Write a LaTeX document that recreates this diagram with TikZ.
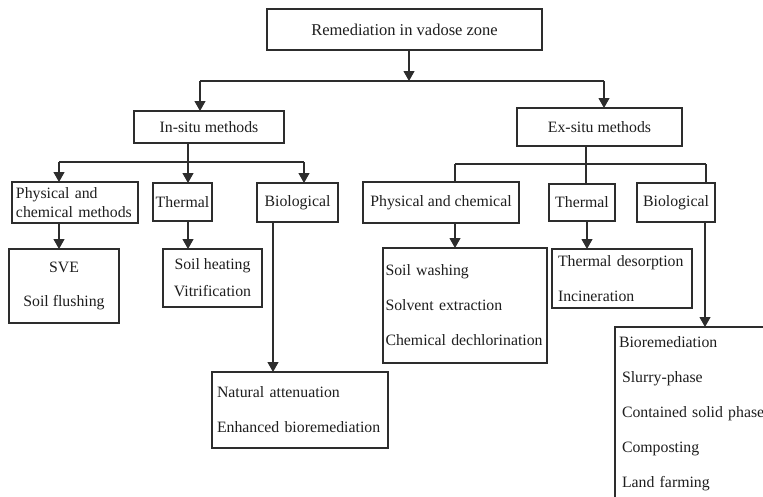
\documentclass[tikz,border=0pt]{standalone}
\usepackage{fontspec}
\setmainfont{Liberation Serif}
\usetikzlibrary{arrows.meta}
\definecolor{lc}{RGB}{45,45,45}
\definecolor{tc}{RGB}{30,30,30}
\newcommand{\fs}{\fontsize{15.8}{19}\selectfont}
\tikzset{
  box/.style={draw=lc, line width=1.1pt, inner sep=0pt, outer sep=0pt,
    text=tc, font=\fs},
  lbox/.style={box, align=left, inner xsep=#1},
  cbox/.style={box, align=center},
  link/.style={draw=lc, line width=1.1pt},
  arr/.style={link, -{Triangle[width=11pt,length=10pt]}},
}
\begin{document}
\begin{tikzpicture}[x=1pt, y=-1pt]
\useasboundingbox (0,0) rectangle (763,496);
\clip (0,0) rectangle (763,496);
\fill[white] (0,0) rectangle (763,496);

% root
\node[box, minimum width=275, minimum height=41] (root) at (404.5,29.5)
  {\fontsize{16.5}{19}\selectfont Remediation in vadose zone};

% first level
\node[box, minimum width=150, minimum height=32] (insitu) at (209,127) {In-situ methods};
\node[box, minimum width=165, minimum height=38] (exsitu) at (599.5,127) {Ex-situ methods};

% in-situ groups
\node[lbox=4pt, text width=118, minimum height=41] (pc1) at (75,202.5)
  {Physical and\\chemical methods};
\node[box, minimum width=59, minimum height=38] (th1) at (182.5,202) {Thermal};
\node[box, minimum width=81, minimum height=39] (bio1) at (297.5,202.5) {Biological};

% ex-situ groups
\node[box, minimum width=156, minimum height=41] (pc2) at (441,202.5) {Physical and chemical};
\node[box, minimum width=66, minimum height=37] (th2) at (582,202.5) {Thermal};
\node[box, minimum width=78, minimum height=39] (bio2) at (676,202.5) {Biological};

% in-situ techniques
\node[cbox, font=\fontsize{15.8}{34}\selectfont, minimum width=110, minimum height=74]
  (sve) at (64,286) {SVE\\Soil flushing};
\node[cbox, font=\fontsize{15.8}{27}\selectfont, minimum width=99, minimum height=58]
  (heat) at (212.5,278) {Soil heating\\Vitrification};
\node[lbox=5pt, font=\fontsize{15.8}{35}\selectfont, text width=166, minimum height=76]
  (nat) at (300,410) {Natural attenuation\\Enhanced bioremediation};

% ex-situ techniques
\node[lbox=2.5pt, font=\fontsize{15.8}{35}\selectfont, text width=159, minimum height=115]
  (wash) at (465,305.5) {Soil washing\\Solvent extraction\\Chemical dechlorination};
\node[lbox=6pt, font=\fontsize{15.8}{35}\selectfont, text width=128, minimum height=59]
  (des) at (622,278.5) {Thermal desorption\\Incineration};
\node[lbox=4pt, font=\fontsize{15.8}{35}\selectfont, text width=152, minimum height=173]
  (bior) at (695,413.5)
  {Bioremediation\\\hspace*{3pt}Slurry-phase\\\hspace*{3pt}Contained solid phase\\\hspace*{3pt}Composting\\\hspace*{3pt}Land farming};

% junctions
\coordinate (jr) at (409,81);
\coordinate (jin) at (200,81);
\coordinate (jex) at (604,81);
\coordinate (ji) at (188,162);
\coordinate (ji1) at (59,162);
\coordinate (ji3) at (304,162);
\coordinate (je) at (586,164);
\coordinate (je1) at (455,164);
\coordinate (je3) at (706,164);

% root to first level
\draw[arr] (root.south -| jr) -- (jr);
\draw[link] (jin) -- (jex);
\draw[arr] (jin) -- (insitu.north -| jin);
\draw[arr] (jex) -- (exsitu.north -| jex);

% in-situ branches
\draw[link] (insitu.south -| ji) -- (ji);
\draw[link] (ji1) -- (ji3);
\draw[arr] (ji1) -- (pc1.north -| ji1);
\draw[arr] (ji) -- (th1.north -| ji);
\draw[arr] (ji3) -- (bio1.north -| ji3);

% ex-situ branches
\draw[link] (exsitu.south -| je) -- (je);
\draw[link] (je1) -- (je3);
\draw[link] (je1) -- (pc2.north -| je1);
\draw[link] (je) -- (th2.north -| je);
\draw[link] (je3) -- (bio2.north -| je3);

% groups to techniques
\draw[arr] (pc1.south -| 59,0) -- (sve.north -| 59,0);
\draw[arr] (th1.south -| 188,0) -- (heat.north -| 188,0);
\draw[arr] (bio1.south -| 273,0) -- (nat.north -| 273,0);
\draw[arr] (pc2.south -| 455,0) -- (wash.north -| 455,0);
\draw[arr] (th2.south -| 587,0) -- (des.north -| 587,0);
\draw[arr] (bio2.south -| 705,0) -- (bior.north -| 705,0);
\end{tikzpicture}
\end{document}
